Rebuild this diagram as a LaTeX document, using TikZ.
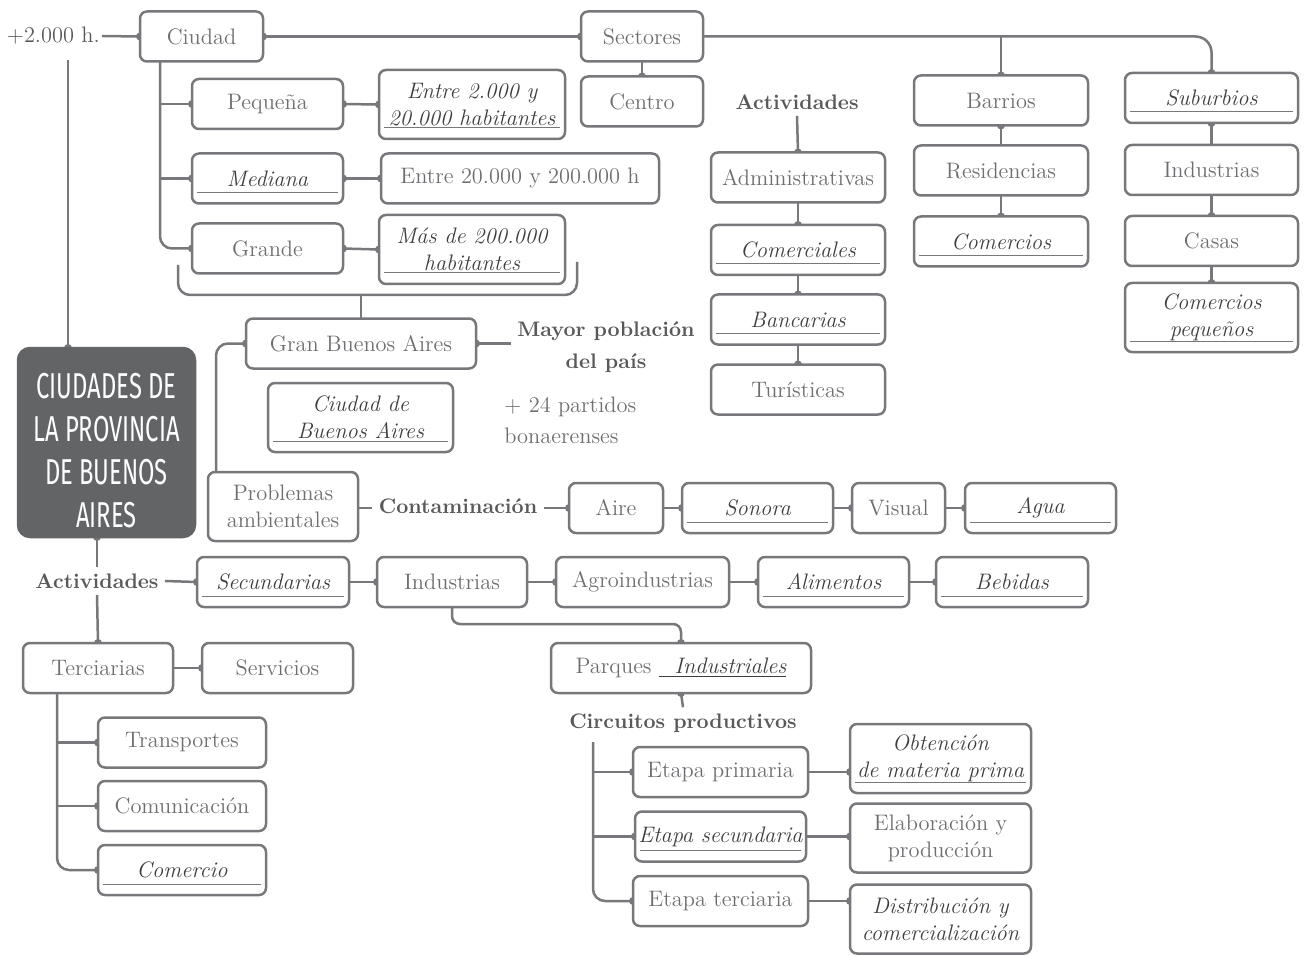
\documentclass[tikz,border=0pt]{standalone}
\usepackage{fontspec}
\newfontfamily\titlefont[FakeStretch=0.66]{Fira Sans}

\definecolor{linecol}{HTML}{77787B}
\definecolor{txtcol}{HTML}{6D6E71}
\definecolor{dkcol}{HTML}{3E3E40}
\definecolor{lblcol}{HTML}{58595B}
\definecolor{maincol}{HTML}{636466}

\pgfdeclarelayer{bg}
\pgfsetlayers{bg,main}

\tikzset{
  box/.style={draw=linecol, line width=1.25pt, rounded corners=3.5pt, fill=white, text=txtcol,
    align=center, inner sep=0pt, outer sep=0pt, minimum height=25pt,
    font=\fontsize{11.2}{13.5}\selectfont},
  uline/.style={path picture={\draw[linecol, line width=0.5pt]
    ([xshift=2.5pt,yshift=5.5pt]path picture bounding box.south west) --
    ([xshift=-2.5pt,yshift=5.5pt]path picture bounding box.south east);}},
  itbox/.style={box, uline, text=dkcol, font=\fontsize{11.2}{13.5}\selectfont\itshape},
  wd/.style={minimum width=#1*0.5pt},
  tall/.style={minimum height=34.5pt},
  lbl/.style={text=lblcol, font=\fontsize{10.5}{16}\selectfont\bfseries, align=center, inner sep=3pt},
  conn/.style={draw=linecol, line width=1.25pt},
  titlebox/.style={fill=maincol, draw=maincol, line width=1.25pt, text=white, rounded corners=6pt,
    inner sep=0pt, outer sep=0pt, wd=177, minimum height=94.5pt,
    font=\titlefont\fontsize{18}{21.5}\selectfont},
}

\begin{document}
\begin{tikzpicture}[x=0.5pt, y=-0.5pt]
\useasboundingbox (0,0) rectangle (1306,957);

% title
\node[titlebox] (main) at (106.5,442.5)
  {\raisebox{0pt}[\dimexpr\height+6pt\relax][\dimexpr\depth-6pt\relax]{\begin{tabular}{@{}c@{}}CIUDADES DE\\LA PROVINCIA\\DE BUENOS\\AIRES\end{tabular}}};

% ciudad
\node[text=lblcol, inner sep=1pt, anchor=east, font=\fontsize{11.2}{13.5}\selectfont] (plus) at (102,36) {+2.000 h.};
\node[box, wd=123] (cd) at (201.5,36.5) {Ciudad};
\node[box, wd=151] (peq) at (267.5,104) {Pequeña};
\node[itbox, wd=186, tall] (e1) at (472,104.5) {Entre 2.000 y\\20.000 habitantes};
\node[itbox, wd=151] (med) at (267.5,178.5) {Mediana};
\node[box, wd=278] (e2) at (520,178.5) {Entre 20.000 y 200.000 h};
\node[box, wd=151] (gra) at (267.5,248.5) {Grande};
\node[itbox, wd=186, tall] (e3) at (472,249.5) {Más de 200.000\\habitantes};

% gran buenos aires
\node[box, wd=230] (gba) at (361,343.5) {Gran Buenos Aires};
\node[lbl] (mayor) at (606,347) {Mayor población\\del país};
\node[itbox, wd=185, tall] (cba) at (360.5,417.5) {Ciudad de\\Buenos Aires};
\node[anchor=west, text=txtcol, align=left, inner sep=0pt, font=\fontsize{11.2}{15.5}\selectfont]
  (part) at (504,420) {+ 24 partidos\\bonaerenses};

% problemas
\node[box, wd=150, tall] (prob) at (283,506.5) {Problemas\\ambientales};
\node[lbl] (cont) at (458,506) {Contaminación};
\node[box, wd=94] (aire) at (616,508) {Aire};
\node[itbox, wd=151] (son) at (757.5,508) {Sonora};
\node[box, wd=93] (vis) at (898.5,508) {Visual};
\node[itbox, wd=151] (agua) at (1040.5,508) {Agua};

% actividades (abajo)
\node[lbl] (actB) at (97,581) {Actividades};
\node[itbox, wd=152] (sec) at (273,582) {Secundarias};
\node[box, wd=150] (ind) at (452,582) {Industrias};
\node[box, wd=173] (agro) at (642.5,582) {Agroindustrias};
\node[itbox, wd=151] (ali) at (833.5,582) {Alimentos};
\node[itbox, wd=152] (beb) at (1012,582) {Bebidas};
\node[box, wd=260] (par) at (681,668) {Parques \textcolor{dkcol}{\itshape\underline{\ \ Industriales}}};
\node[lbl] (circ) at (683,723) {Circuitos productivos};
\node[box, wd=175] (ep) at (720.5,772) {Etapa primaria};
\node[itbox, wd=171] (es) at (720.5,836.5) {Etapa secundaria};
\node[box, wd=175] (et) at (720.5,901) {Etapa terciaria};
\node[itbox, wd=181, tall] (ob) at (940.5,758.5) {Obtención\\de materia prima};
\node[box, wd=181, tall] (el) at (940.5,838) {Elaboración y\\producción};
\node[box, wd=181, tall, text=dkcol, font=\fontsize{11.2}{13.5}\selectfont\itshape] (di) at (940.5,919)
  {Distribución y\\comercialización};
\node[box, wd=150] (ter) at (98,668) {Terciarias};
\node[box, wd=151] (serv) at (277.5,668) {Servicios};
\node[box, wd=168] (tra) at (182,742.5) {Transportes};
\node[box, wd=168] (com) at (182,806) {Comunicación};
\node[itbox, wd=168] (cme) at (182,870) {Comercio};

% actividades (arriba)
\node[box, wd=122] (sect) at (642,36.5) {Sectores};
\node[box, wd=122] (cen) at (642,101.5) {Centro};
\node[lbl] (actA) at (797,102) {Actividades};
\node[box, wd=174] (adm) at (798,177.5) {Administrativas};
\node[itbox, wd=174] (cmr) at (798,250) {Comerciales};
\node[itbox, wd=174] (ban) at (798,319.5) {Bancarias};
\node[box, wd=174] (tur) at (798,389.5) {Turísticas};

% barrios y suburbios
\node[box, wd=174] (bar) at (1001,100.5) {Barrios};
\node[box, wd=174] (res) at (1001,170.5) {Residencias};
\node[itbox, wd=174] (cms) at (1001,241.5) {Comercios};
\node[itbox, wd=173] (sub) at (1211.5,98) {Suburbios};
\node[box, wd=173] (indu) at (1211.5,170) {Industrias};
\node[box, wd=173] (cas) at (1211.5,241) {Casas};
\node[itbox, wd=173, tall] (cpq) at (1211.5,317.5) {Comercios\\pequeños};

\coordinate (v0) at (68,60);
\coordinate (v1) at (v0 |- main.north);
\coordinate (v2) at (actB.north |- main.south);
\coordinate (t1) at ([xshift=10pt]cd.south west);
\coordinate (t2) at ([xshift=17pt]ter.south west);
\coordinate (t3) at (593,742);
\coordinate (br) at (361,295);
\coordinate (p1) at (ep.east -| ob.west);
\coordinate (p2) at (es.east -| el.west);
\coordinate (p3) at (et.east -| di.west);

\begin{pgfonlayer}{bg}
\draw[conn] (plus.east) -- (cd.west);
\draw[conn] (v0) -- (v1);
\draw[conn] (cd.east) -- (sect.west);
\draw[conn] (sect.south) -- (cen.north);
\draw[conn] (t1) |- (peq.west);
\draw[conn] (t1) |- (med.west);
\draw[conn, rounded corners=6pt] (t1) |- (gra.west);
\draw[conn] (peq.east) -- (e1.west);
\draw[conn] (med.east) -- (e2.west);
\draw[conn] (gra.east) -- (e3.west);
\draw[conn, rounded corners=6pt] (178,265) -- (178,295) -- (577,295) -- (577,262);
\draw[conn] (br) -- (gba.north);
\draw[conn, rounded corners=6pt] ([xshift=4pt]prob.north west) |- (gba.west);
\draw[conn] (gba.east) -- (gba.east -| mayor.west);
\draw[conn] (prob.east |- aire.west) -- (cont.west |- aire.west);
\draw[conn] (cont.east |- aire.west) -- (aire.west);
\draw[conn] (aire.east) -- (son.west);
\draw[conn] (son.east) -- (vis.west);
\draw[conn] (vis.east) -- (agua.west);
\draw[conn] (v2) -- (actB.north);
\draw[conn] (actB.south) -- (ter.north);
\draw[conn] (actB.east) -- (sec.west);
\draw[conn] (sec.east) -- (ind.west);
\draw[conn] (ind.east) -- (agro.west);
\draw[conn] (agro.east) -- (ali.west);
\draw[conn] (ali.east) -- (beb.west);
\draw[conn, rounded corners=4pt] (ind.south) |- (par.north |- 0,624) -- (par.north);
\draw[conn] (par.south) -- (circ.north);
\draw[conn] (t3) |- (ep.west);
\draw[conn] (t3) |- (es.west);
\draw[conn, rounded corners=6pt] (t3) |- (et.west);
\draw[conn] (ep.east) -- (p1);
\draw[conn] (es.east) -- (p2);
\draw[conn] (et.east) -- (p3);
\draw[conn] (ter.east) -- (serv.west);
\draw[conn] (t2) |- (tra.west);
\draw[conn] (t2) |- (com.west);
\draw[conn, rounded corners=6pt] (t2) |- (cme.west);
\draw[conn] (actA.south) -- (adm.north);
\draw[conn] (adm.south) -- (cmr.north);
\draw[conn] (cmr.south) -- (ban.north);
\draw[conn] (ban.south) -- (tur.north);
\draw[conn, rounded corners=8pt] (sect.east) -| (sub.north);
\draw[conn] (bar.north) -- (bar.north |- sect.east);
\draw[conn] (bar.south) -- (res.north);
\draw[conn] (res.south) -- (cms.north);
\draw[conn] (sub.south) -- (indu.north);
\draw[conn] (indu.south) -- (cas.north);
\draw[conn] (cas.south) -- (cpq.north);
% puntos de union
\foreach \p in {cd.west, cd.east, sect.west, cen.north, peq.west, med.west, gra.west,
    peq.east, e1.west, med.east, e2.west, gra.east, e3.west, gba.west, gba.east,
    aire.west, son.west, vis.west, agua.west, v1, v2, ter.north, sec.west, ind.west,
    agro.west, ali.west, beb.west, par.north, par.south, ep.west, es.west, et.west,
    p1, p2, p3, serv.west, tra.west, com.west, cme.west, adm.north,
    cmr.north, ban.north, tur.north, bar.north, sub.north, bar.south, cms.north,
    sub.south, cas.north, cpq.north}
  \fill[linecol] (\p) circle (2pt);
\end{pgfonlayer}
\end{tikzpicture}
\end{document}
